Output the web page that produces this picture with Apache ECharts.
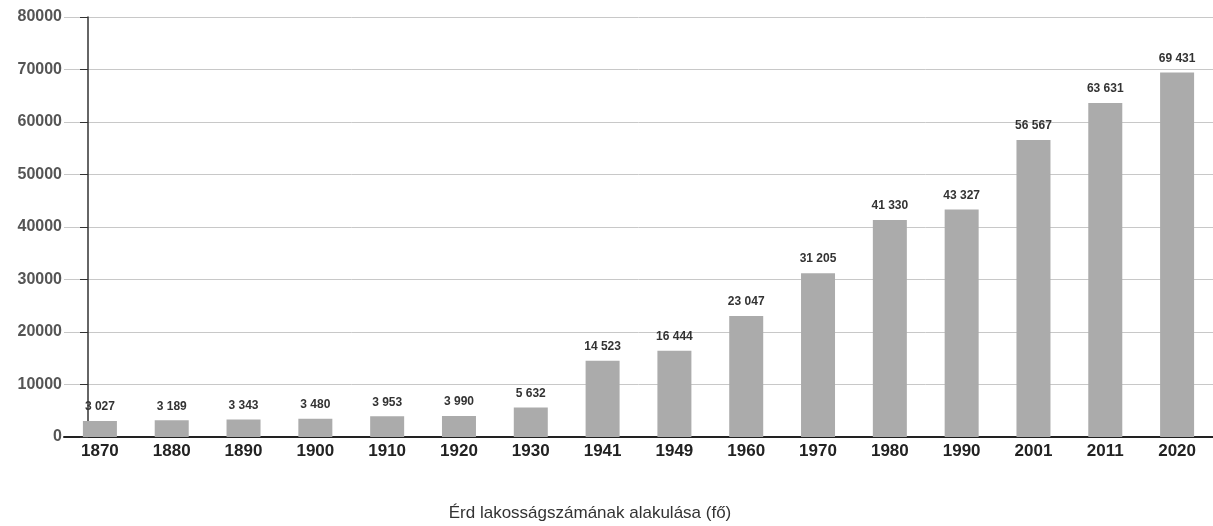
<!DOCTYPE html>
<html>
<head>
<meta charset="utf-8">
<script src="https://cdn.jsdelivr.net/npm/echarts@6/dist/echarts.min.js"></script>
<style>
html,body{margin:0;padding:0;background:#fff;}
#chart{width:1213px;height:526px;}
</style>
</head>
<body>
<div id="chart"></div>
<script>
const years = ['1870','1880','1890','1900','1910','1920','1930','1941','1949','1960','1970','1980','1990','2001','2011','2020'];
const population = [3027, 3189, 3343, 3480, 3953, 3990, 5632, 14523, 16444, 23047, 31205, 41330, 43327, 56567, 63631, 69431];
const yTicks = [0, 10000, 20000, 30000, 40000, 50000, 60000, 70000, 80000];
const caption = 'Érd lakosságszámának alakulása (fő)';

const chart = echarts.init(document.getElementById('chart'), null, {renderer: 'canvas'});
const fontFamily = '"Liberation Sans", Arial, sans-serif';
chart.setOption({
  animation: false,
  backgroundColor: '#ffffff',
  title: {
    text: caption,
    left: 585, top: 500, textAlign: 'center',
    textStyle: {fontFamily, fontSize: 17, fontWeight: 'normal', color: '#333'}
  },
  grid: {left: 64, right: -16, top: 17, bottom: 89, containLabel: false},
  xAxis: {
    type: 'category',
    data: years,
    axisLine: {show: true, lineStyle: {color: '#222', width: 2}},
    axisTick: {show: false},
    axisLabel: {fontFamily, fontSize: 17, fontWeight: 'bold', color: '#222', margin: 6}
  },
  yAxis: {
    type: 'value',
    min: yTicks[0], max: yTicks[yTicks.length - 1], interval: 10000,
    offset: -24,
    axisLine: {show: true, lineStyle: {color: '#333', width: 1.5}},
    axisTick: {show: true, length: 8, lineStyle: {color: '#333'}},
    splitLine: {show: true, lineStyle: {color: '#c8c8c8', width: 1}},
    axisLabel: {fontFamily, fontSize: 16, fontWeight: 'bold', color: '#555', margin: 26,
      formatter: v => String(v)}
  },
  series: [{
    type: 'bar',
    data: population,
    barWidth: 34,
    itemStyle: {color: '#ababab'},
    label: {
      show: true, position: 'top', distance: 8,
      fontFamily, fontSize: 12, fontWeight: 'bold', color: '#333',
      formatter: p => String(p.value).replace(/\B(?=(\d{3})+(?!\d))/g, ' ')
    }
  }]
});
</script>
</body>
</html>
